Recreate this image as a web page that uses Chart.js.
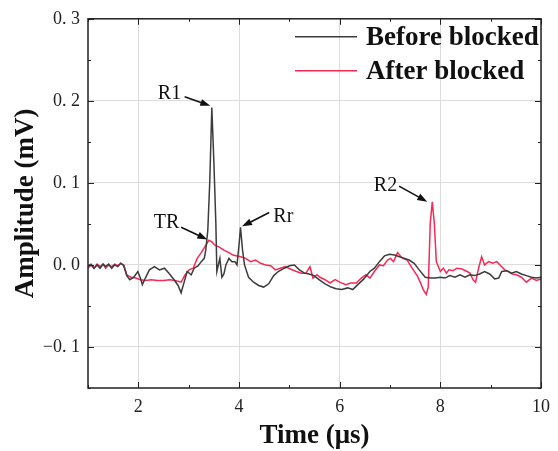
<!DOCTYPE html>
<html>
<head>
<meta charset="utf-8">
<script src="https://cdn.jsdelivr.net/npm/chart.js@4.4.1/dist/chart.umd.min.js"></script>
<style>
  html, body { margin: 0; padding: 0; background: #fff; }
  #wrap { width: 558px; height: 451px; }
</style>
</head>
<body>
<div id="wrap"><canvas id="chart1"></canvas></div>
<script>
// Before blocked (black trace)
const beforeTime = [1.00,1.06,1.12,1.18,1.24,1.30,1.35,1.41,1.47,1.53,1.59,1.65,1.71,1.77,1.83,1.91,1.99,2.04,2.08,2.14,2.22,2.32,2.42,2.52,2.62,2.71,2.79,2.85,2.91,2.97,3.05,3.11,3.19,3.25,3.31,3.34,3.38,3.42,3.46,3.50,3.54,3.56,3.62,3.66,3.70,3.74,3.80,3.86,3.92,3.96,4.00,4.03,4.07,4.11,4.19,4.29,4.39,4.49,4.59,4.69,4.78,4.90,5.00,5.10,5.20,5.30,5.39,5.49,5.59,5.71,5.83,5.93,6.04,6.16,6.26,6.36,6.48,6.60,6.69,6.79,6.89,6.99,7.09,7.19,7.29,7.38,7.48,7.58,7.70,7.80,7.90,8.00,8.09,8.19,8.29,8.39,8.49,8.59,8.68,8.78,8.88,8.98,9.08,9.16,9.22,9.32,9.41,9.51,9.61,9.71,9.81,9.91,10.0];
const beforeAmp = [-0.001,0.001,-0.004,0,-0.004,0.001,-0.002,0.001,-0.004,0,-0.002,0.002,-0.001,-0.013,-0.018,-0.015,-0.008,-0.016,-0.024,-0.016,-0.006,-0.002,-0.006,-0.004,-0.011,-0.018,-0.025,-0.034,-0.021,-0.008,-0.012,-0.004,-0.001,0.004,0.008,0.018,0.042,0.103,0.192,0.127,0.051,-0.008,0.008,-0.015,-0.011,0,0.008,0.004,0.004,0,0.024,0.046,0.018,0,-0.015,-0.021,-0.025,-0.027,-0.023,-0.013,-0.008,-0.004,-0.001,0,-0.006,-0.010,-0.011,-0.013,-0.018,-0.023,-0.027,-0.029,-0.030,-0.028,-0.030,-0.024,-0.017,-0.008,-0.004,0.004,0.011,0.013,0.012,0.010,0.008,0.006,0.002,-0.006,-0.015,-0.016,-0.016,-0.015,-0.016,-0.013,-0.015,-0.012,-0.015,-0.012,-0.013,-0.011,-0.008,-0.011,-0.017,-0.016,-0.008,-0.007,-0.010,-0.008,-0.011,-0.013,-0.015,-0.016,-0.015];

// After blocked (red trace)
const afterTime = [1.00,1.06,1.12,1.18,1.24,1.30,1.35,1.41,1.47,1.53,1.59,1.65,1.71,1.77,1.85,1.95,2.04,2.14,2.26,2.38,2.50,2.62,2.73,2.85,2.93,3.01,3.09,3.17,3.25,3.33,3.40,3.46,3.52,3.60,3.70,3.80,3.88,3.96,4.03,4.13,4.23,4.33,4.43,4.53,4.63,4.72,4.82,4.92,5.02,5.14,5.24,5.33,5.41,5.47,5.55,5.61,5.71,5.81,5.91,6.00,6.12,6.22,6.33,6.43,6.52,6.60,6.69,6.79,6.87,6.95,7.01,7.07,7.15,7.25,7.34,7.44,7.54,7.60,7.66,7.72,7.76,7.80,7.84,7.88,7.92,7.96,8.00,8.06,8.12,8.17,8.25,8.33,8.43,8.53,8.59,8.65,8.70,8.76,8.82,8.88,8.96,9.04,9.12,9.20,9.28,9.35,9.43,9.51,9.61,9.71,9.81,9.91,10.0];
const afterAmp = [-0.004,0,-0.004,0.001,-0.002,0.001,-0.004,0,-0.002,0.001,-0.001,0.002,0,-0.012,-0.015,-0.016,-0.018,-0.019,-0.018,-0.019,-0.019,-0.018,-0.019,-0.021,-0.012,-0.006,-0.004,0.008,0.015,0.023,0.030,0.028,0.024,0.022,0.018,0.015,0.012,0.011,0.010,0.008,0.004,0.006,0.002,0,-0.001,-0.006,-0.004,-0.002,-0.005,-0.008,-0.010,-0.010,-0.002,-0.016,-0.012,-0.015,-0.018,-0.022,-0.018,-0.021,-0.024,-0.022,-0.022,-0.016,-0.012,-0.016,-0.008,0,-0.001,0.006,0.008,0.004,0.015,0.008,0.006,-0.004,-0.013,-0.021,-0.030,-0.036,-0.027,0.051,0.077,0.051,0.004,-0.002,-0.008,-0.004,-0.010,-0.006,-0.007,-0.004,-0.005,-0.008,-0.010,-0.018,-0.021,-0.004,0.010,0,0.004,0.002,0.004,-0.001,-0.006,-0.008,-0.011,-0.012,-0.015,-0.021,-0.016,-0.019,-0.017];

const xTicks = [2, 4, 6, 8, 10];
const yTicks = [-0.1, 0, 0.1, 0.2, 0.3];
const yTickLabels = ["\u22120. 1", "0. 0", "0. 1", "0. 2", "0. 3"];

// peak labels: text, label anchor, arrow start, arrow tip (data units)
const marks = [
  { text: "R1", lx: 2.62, ly: 0.209, sx: 2.92, sy: 0.205, tx: 3.43, ty: 0.194 },
  { text: "TR", lx: 2.56, ly: 0.051, sx: 2.85, sy: 0.046, tx: 3.37, ty: 0.031 },
  { text: "Rr", lx: 4.88, ly: 0.059, sx: 4.60, sy: 0.064, tx: 4.06, ty: 0.047 },
  { text: "R2", lx: 6.91, ly: 0.096, sx: 7.18, sy: 0.096, tx: 7.74, ty: 0.077 },
];

const serif = "'Liberation Serif', 'Times New Roman', serif";
Chart.defaults.font.family = serif;

const toPts = (xs, ys) => xs.map((x, i) => ({ x: x, y: ys[i] }));

const frame = {
  id: "frame",
  afterDatasetsDraw(chart) {
    const c = chart.ctx, a = chart.chartArea;
    const xs = chart.scales.x, ys = chart.scales.y;
    c.save();
    c.strokeStyle = "#222";
    c.lineWidth = 1;
    // major + minor ticks, inward, on all four sides
    const xMinor = [1, 3, 5, 7, 9];
    const yMinor = [-0.15, -0.05, 0.05, 0.15, 0.25];
    c.beginPath();
    xTicks.forEach(v => { const p = Math.round(xs.getPixelForValue(v)) + 0.5;
      c.moveTo(p, a.bottom); c.lineTo(p, a.bottom - 6); c.moveTo(p, a.top); c.lineTo(p, a.top + 6); });
    xMinor.forEach(v => { const p = Math.round(xs.getPixelForValue(v)) + 0.5;
      c.moveTo(p, a.bottom); c.lineTo(p, a.bottom - 3); c.moveTo(p, a.top); c.lineTo(p, a.top + 3); });
    yTicks.forEach(v => { const p = Math.round(ys.getPixelForValue(v)) + 0.5;
      c.moveTo(a.left, p); c.lineTo(a.left + 6, p); c.moveTo(a.right, p); c.lineTo(a.right - 6, p); });
    yMinor.forEach(v => { const p = Math.round(ys.getPixelForValue(v)) + 0.5;
      c.moveTo(a.left, p); c.lineTo(a.left + 3, p); c.moveTo(a.right, p); c.lineTo(a.right - 3, p); });
    c.stroke();
    c.lineWidth = 1.5;
    c.strokeRect(a.left, a.top, a.right - a.left, a.bottom - a.top);

    // peak labels with arrows
    c.fillStyle = "#111";
    c.strokeStyle = "#111";
    c.font = "20px " + serif;
    c.textAlign = "center";
    c.textBaseline = "middle";
    marks.forEach(m => {
      c.fillText(m.text, xs.getPixelForValue(m.lx), ys.getPixelForValue(m.ly));
      const x0 = xs.getPixelForValue(m.sx), y0 = ys.getPixelForValue(m.sy);
      const x1 = xs.getPixelForValue(m.tx), y1 = ys.getPixelForValue(m.ty);
      const ang = Math.atan2(y1 - y0, x1 - x0);
      c.lineWidth = 1.6;
      c.beginPath();
      c.moveTo(x0, y0);
      c.lineTo(x1 - 7 * Math.cos(ang), y1 - 7 * Math.sin(ang));
      c.stroke();
      c.beginPath();
      c.moveTo(x1, y1);
      c.lineTo(x1 - 10 * Math.cos(ang) + 3.5 * Math.sin(ang), y1 - 10 * Math.sin(ang) - 3.5 * Math.cos(ang));
      c.lineTo(x1 - 10 * Math.cos(ang) - 3.5 * Math.sin(ang), y1 - 10 * Math.sin(ang) + 3.5 * Math.cos(ang));
      c.closePath();
      c.fill();
    });

    // legend, top right inside the plot
    c.font = "bold 27px " + serif;
    c.textAlign = "left";
    chart.data.datasets.forEach((ds, i) => {
      const y = a.top + 18 + i * 34;
      c.strokeStyle = ds.borderColor;
      c.lineWidth = 1.5;
      c.beginPath();
      c.moveTo(a.left + 207, y);
      c.lineTo(a.left + 269, y);
      c.stroke();
      c.fillStyle = "#111";
      c.fillText(ds.label, a.left + 278, y + 1);
    });
    c.restore();
  }
};

const ctx = document.getElementById("chart1");
const chart = new Chart(ctx, {
  type: "line",
  data: {
    datasets: [
      { label: "Before blocked", data: toPts(beforeTime, beforeAmp), borderColor: "#3c3c3c", borderWidth: 1.5, pointRadius: 0, tension: 0 },
      { label: "After blocked", data: toPts(afterTime, afterAmp), borderColor: "#f72a55", borderWidth: 1.5, pointRadius: 0, tension: 0 },
    ],
  },
  options: {
    responsive: true,
    maintainAspectRatio: false,
    animation: false,
    layout: { padding: { top: 17, right: 13, left: 0, bottom: 0 } },
    plugins: { legend: { display: false }, tooltip: { enabled: false } },
    scales: {
      x: {
        type: "linear",
        min: 1,
        max: 10,
        afterBuildTicks: s => { s.ticks = xTicks.map(v => ({ value: v })); },
        afterFit: s => { s.height = 63; },
        grid: { color: "#dcdcdc", lineWidth: 1, drawTicks: false },
        border: { display: false },
        ticks: { color: "#222", font: { size: 18 }, padding: 8, maxRotation: 0 },
        title: { display: true, text: "Time (\u03bcs)", color: "#111", font: { size: 27, weight: "bold", lineHeight: 1 }, padding: { top: 0, bottom: 1 } },
      },
      y: {
        min: -0.15,
        max: 0.3,
        afterBuildTicks: s => { s.ticks = yTicks.map(v => ({ value: v })); },
        afterFit: s => { s.width = 88; },
        grid: { color: "#dcdcdc", lineWidth: 1, drawTicks: false },
        border: { display: false },
        ticks: {
          color: "#222",
          font: { size: 18 },
          padding: 8,
          callback: v => { const i = yTicks.findIndex(t => Math.abs(t - v) < 1e-9); return i < 0 ? "" : yTickLabels[i]; },
        },
        title: { display: true, text: "Amplitude (mV)", color: "#111", font: { size: 27, weight: "bold", lineHeight: 1 }, padding: { top: 13, bottom: 0 } },
      },
    },
  },
  plugins: [frame],
});
</script>
</body>
</html>
